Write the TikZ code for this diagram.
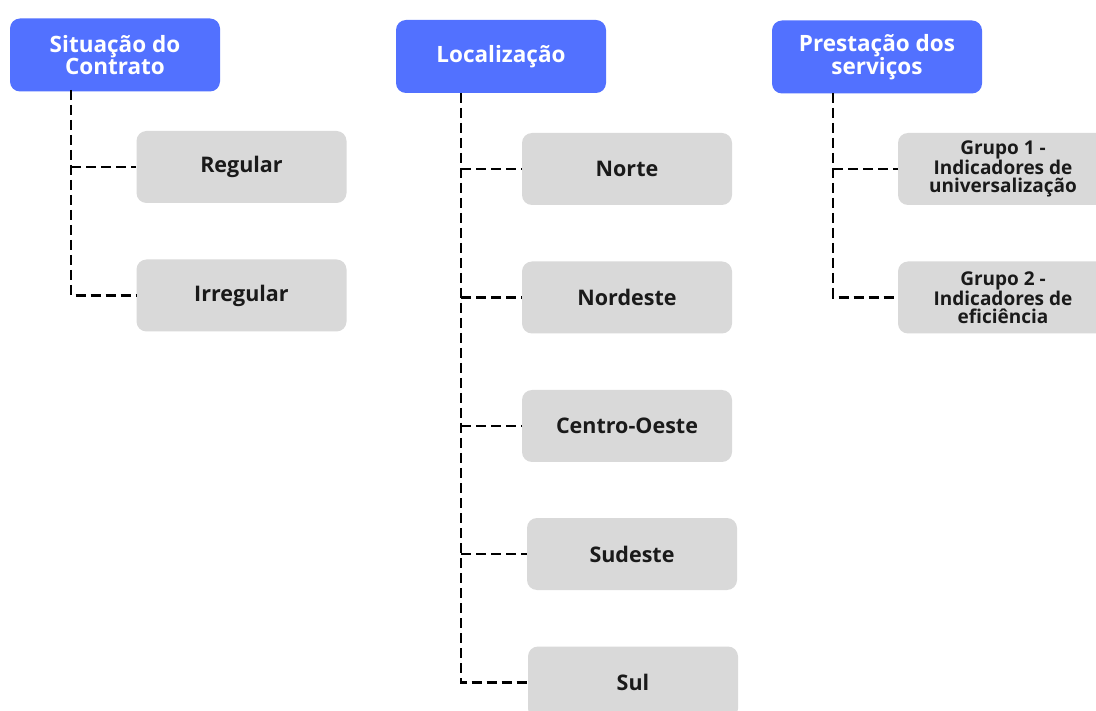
\documentclass[tikz,border=0pt]{standalone}
\usepackage{fontspec}
\setmainfont{Open Sans}
\definecolor{topblue}{HTML}{5271FF}
\definecolor{leafgray}{HTML}{D9D9D9}
\definecolor{leaftext}{HTML}{1A1A1A}
\begin{document}
\begin{tikzpicture}[x=1pt,y=-1pt,
  topbox/.style={fill=topblue,rounded corners=10pt,minimum width=210pt,minimum height=73pt,
    text=white,font=\fontsize{22.5}{22.5}\selectfont\bfseries,align=center,inner sep=0pt},
  leafbox/.style={fill=leafgray,rounded corners=10pt,minimum width=210pt,minimum height=72pt,
    text=leaftext,font=\fontsize{21.5}{22}\selectfont\bfseries,align=center,inner sep=0pt},
  smallleaf/.style={leafbox,font=\fontsize{19}{17.5}\selectfont\bfseries},
  conn/.style={draw=black,line width=2.6pt,dash pattern=on 10pt off 5pt}]
\useasboundingbox (0,0) rectangle (1096,711);
\clip (0,0) rectangle (1096,711);
\fill[white] (0,0) rectangle (1096,711);
% column 1
\node[topbox] (sit) at (115,55) {Situação do\\Contrato};
\node[leafbox] (reg) at (241.5,167) {Regular};
\node[leafbox] (irr) at (241.5,295.5) {Irregular};
\coordinate (t1) at (71,90);
\draw[conn] (t1) |- (irr.west);
\draw[conn] (t1 |- reg.west) -- (reg.west);
% column 2
\node[topbox] (loc) at (501,56.5) {Localização};
\node[leafbox] (nor) at (627,169) {Norte};
\node[leafbox] (nde) at (627,297.5) {Nordeste};
\node[leafbox] (cen) at (627,426) {Centro-Oeste};
\node[leafbox] (sud) at (632,554) {Sudeste};
\node[leafbox] (sul) at (633,682.5) {Sul};
\coordinate (t2) at (461,93);
\draw[conn] (t2) |- (sul.west);
\draw[conn] (t2 |- nor.west) -- (nor.west);
\draw[conn] (t2 |- nde.west) -- (nde.west);
\draw[conn] (t2 |- cen.west) -- (cen.west);
\draw[conn] (t2 |- sud.west) -- (sud.west);
% column 3
\node[topbox] (pre) at (877,57) {Prestação dos\\serviços};
\node[smallleaf] (g1) at (1003,169) {Grupo 1 -\\Indicadores de\\universalização};
\node[smallleaf] (g2) at (1003,297.5) {Grupo 2 -\\Indicadores de\\eficiência};
\coordinate (t3) at (833,93);
\draw[conn] (t3) |- (g2.west);
\draw[conn] (t3 |- g1.west) -- (g1.west);
\end{tikzpicture}
\end{document}
